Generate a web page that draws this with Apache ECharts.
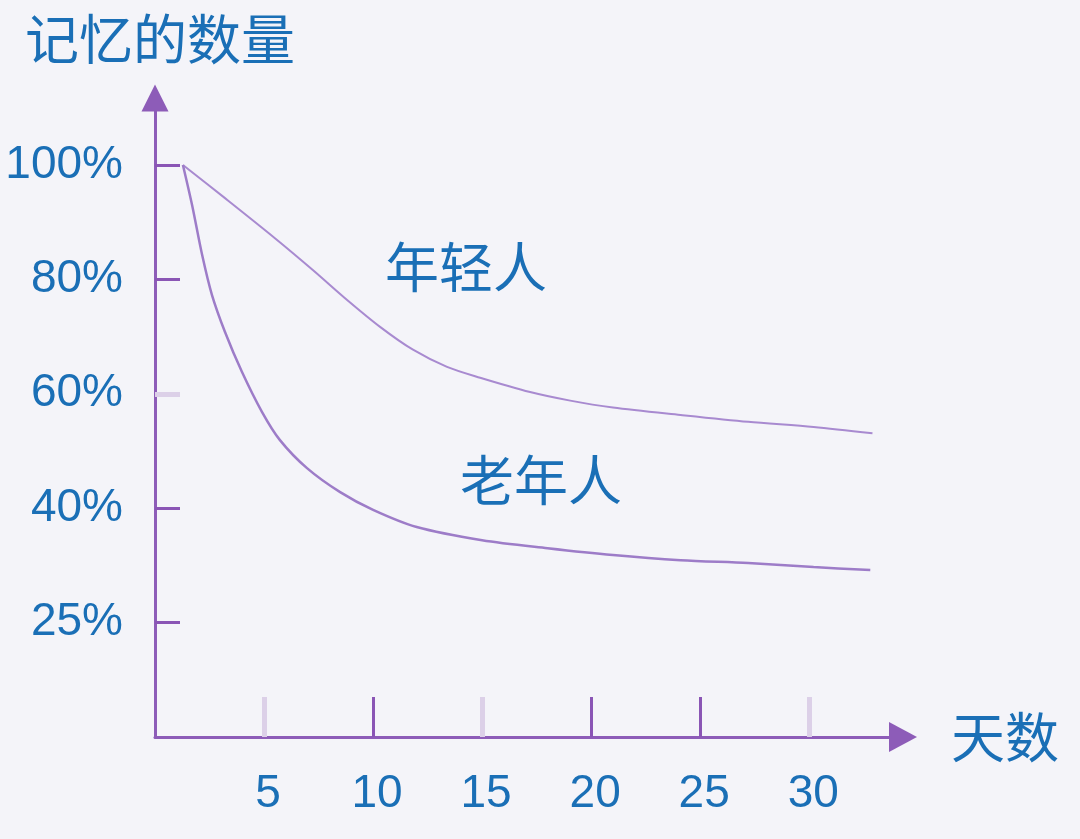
<!DOCTYPE html>
<html>
<head>
<meta charset="utf-8">
<script src="https://cdn.jsdelivr.net/npm/echarts@6/dist/echarts.min.js"></script>
<style>
html,body{margin:0;padding:0;background:#f4f4f9;}
#chart{width:1080px;height:839px;}
</style>
</head>
<body>
<div id="chart"></div>
<script>
// Data
var youngDays   = [1.28, 3.21, 5.5, 7.25, 8.81, 10.32, 11.83, 13.39, 14.91, 17.2, 19.04, 21.0, 24.1, 27.2, 30.2, 32.9];
var youngValues = [100, 94.2, 87.2, 81.6, 76.4, 71.7, 67.7, 64.7, 62.8, 60.3, 58.8, 57.6, 56.3, 55.1, 54.2, 53.1];
var oldDays   = [1.28, 1.7, 2.16, 2.61, 3.21, 3.99, 4.91, 5.73, 6.97, 8.49, 10.0, 12.0, 15.0, 18.0, 21.0, 24.1, 27.2, 30.2, 32.8];
var oldValues = [100, 93.0, 84.3, 77.3, 70.8, 63.8, 56.8, 51.9, 47.0, 42.8, 39.7, 36.7, 34.4, 33.0, 31.8, 30.9, 30.4, 29.7, 29.2];

var xTickLabels = [5, 10, 15, 20, 25, 30];
var xDarkTicks = [10, 20, 25];
var xLightTicks = [5, 15, 30];
var yTickPositions = [20, 40, 60, 80, 100];
var yTickLabels = ['25%', '40%', '60%', '80%', '100%'];
var yDarkTicks = [20, 40, 80, 100];
var yLightTicks = [60];

var seriesNames = ['年轻人', '老年人'];
var yAxisTitle = '记忆的数量';
var xAxisTitle = '天数';

function pairs(xs, ys) { return xs.map(function (x, i) { return [x, ys[i]]; }); }

var blue = '#1a6fb6';
var axisPurple = '#8d5cb8';
var lightTick = '#dcd0e8';
var numFont = 'Liberation Sans';
var cjkFont = 'Noto Sans CJK SC';

var chart = echarts.init(document.getElementById('chart'));
chart.setOption({
  backgroundColor: '#f4f4f9',
  animation: false,
  grid: { left: 155, right: 177, top: 98, bottom: 102 },
  xAxis: [{
    type: 'value', min: 0, max: 34.3, position: 'bottom',
    name: xAxisTitle, nameLocation: 'end', nameGap: 48,
    nameTextStyle: { fontSize: 54, color: blue, fontFamily: cjkFont, verticalAlign: 'middle' },
    axisLine: { show: true, symbol: ['none', 'triangle'], symbolSize: [30, 28],
      lineStyle: { color: axisPurple, width: 3 } },
    axisTick: { show: true, inside: true, length: 40, customValues: xDarkTicks,
      lineStyle: { color: '#8a55b5', width: 3 } },
    axisLabel: { show: true, customValues: xTickLabels, margin: 34, fontSize: 46,
      color: blue, fontFamily: numFont, padding: [0, 0, 0, 8] },
    splitLine: { show: false }
  }, {
    type: 'value', min: 0, max: 34.3, position: 'bottom', offset: 0,
    axisLine: { show: false },
    axisTick: { show: true, inside: true, length: 40, customValues: xLightTicks,
      lineStyle: { color: lightTick, width: 5 } },
    axisLabel: { show: false },
    splitLine: { show: false }
  }],
  yAxis: [{
    type: 'value', min: 0, max: 111.7, position: 'left',
    name: yAxisTitle, nameLocation: 'end', nameGap: 32,
    nameTextStyle: { fontSize: 54, color: blue, fontFamily: cjkFont, padding: [0, 0, 0, 10] },
    axisLine: { show: true, symbol: ['none', 'triangle'], symbolSize: [27, 27],
      lineStyle: { color: axisPurple, width: 3 } },
    axisTick: { show: true, inside: true, length: 25, customValues: yDarkTicks,
      lineStyle: { color: '#8a55b5', width: 3 } },
    axisLabel: { show: true, customValues: yTickPositions, margin: 32, fontSize: 46,
      color: blue, fontFamily: numFont,
      formatter: function (v) { var i = yTickPositions.indexOf(v); return i >= 0 ? yTickLabels[i] : ''; } },
    splitLine: { show: false }
  }, {
    type: 'value', min: 0, max: 111.7, position: 'left', offset: 0,
    axisLine: { show: false },
    axisTick: { show: true, inside: true, length: 25, customValues: yLightTicks,
      lineStyle: { color: lightTick, width: 5 } },
    axisLabel: { show: false },
    splitLine: { show: false }
  }],
  series: [{
    name: seriesNames[0], type: 'line', smooth: 0.3, symbol: 'none',
    data: pairs(youngDays, youngValues),
    lineStyle: { color: '#a88ad0', width: 2 }
  }, {
    name: seriesNames[1], type: 'line', smooth: 0.3, symbol: 'none',
    data: pairs(oldDays, oldValues),
    lineStyle: { color: '#9d7cc8', width: 2.5 }
  }],
  graphic: [{
    type: 'text', left: 385, top: 240,
    style: { text: seriesNames[0], fill: blue, font: '54px "Noto Sans CJK SC"' }
  }, {
    type: 'text', left: 460, top: 453,
    style: { text: seriesNames[1], fill: blue, font: '54px "Noto Sans CJK SC"' }
  }]
});
</script>
</body>
</html>
